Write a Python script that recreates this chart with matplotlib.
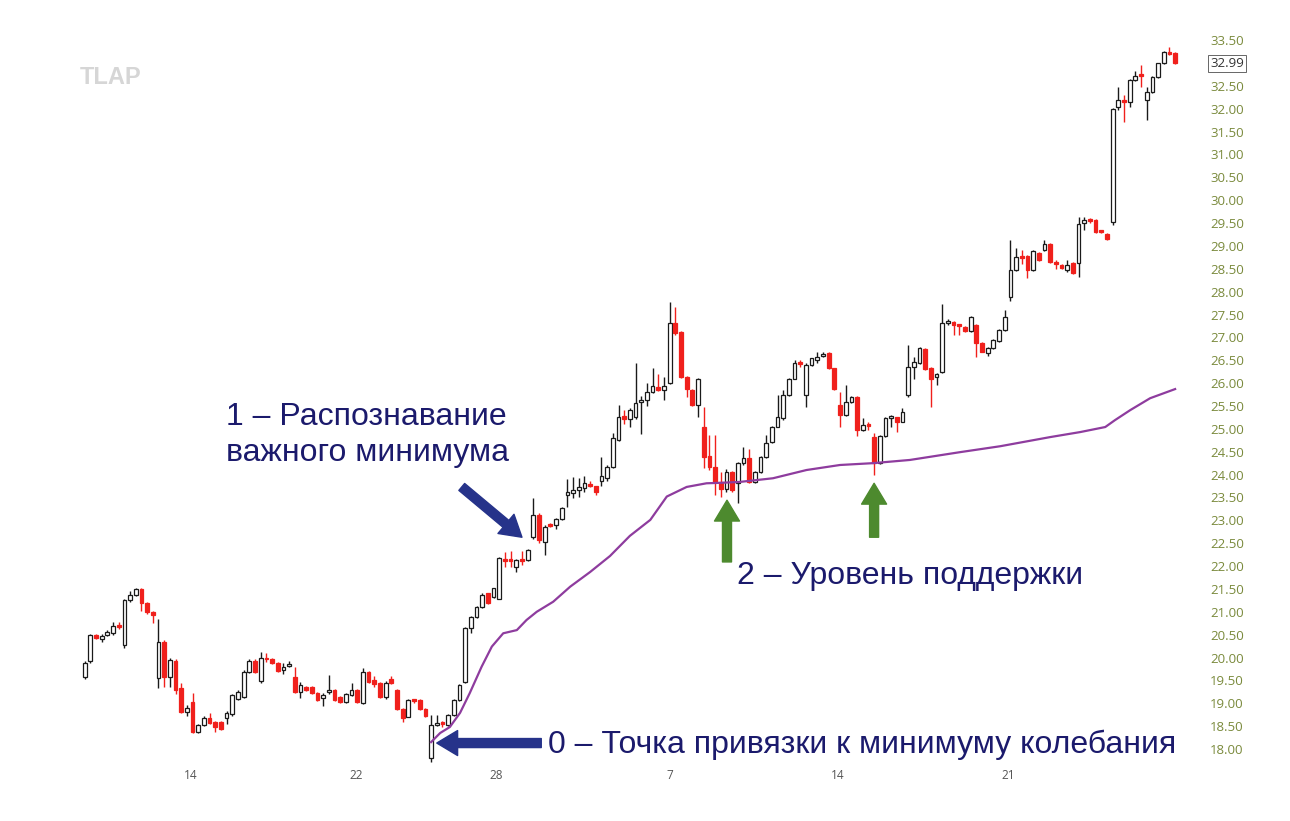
import numpy as np
import matplotlib.pyplot as plt

# OHLC, one value per candle
opens = [19.57, 19.92, 20.50, 20.40, 20.50, 20.53, 20.70, 20.27, 21.26, 21.37,
         21.50, 21.19, 21.00, 19.55, 20.35, 19.58, 19.93, 19.33, 18.81, 19.03,
         18.38, 18.52, 18.68, 18.60, 18.60, 18.68, 18.76, 19.10, 19.14, 19.69,
         19.93, 19.49, 19.98, 19.97, 19.89, 19.72, 19.82, 19.58, 19.25, 19.36,
         19.35, 19.22, 19.11, 19.24, 19.30, 19.14, 19.03, 19.18, 19.29, 19.00,
         19.69, 19.51, 19.45, 19.14, 19.53, 19.30, 18.87, 18.71, 19.08, 19.08,
         18.87, 17.80, 18.52, 18.58, 18.52, 18.74, 19.07, 19.47, 20.64, 20.89,
         21.11, 21.40, 21.33, 21.29, 22.15, 22.15, 21.98, 22.15, 22.13, 22.64,
         23.12, 22.53, 22.92, 22.90, 23.02, 23.55, 23.60, 23.66, 23.70, 23.78,
         23.74, 23.87, 23.92, 24.17, 24.75, 25.28, 25.21, 25.26, 25.59, 25.63,
         25.81, 25.92, 25.86, 26.00, 27.31, 27.12, 26.14, 25.85, 25.52, 25.05,
         24.40, 24.17, 23.84, 23.68, 24.06, 23.81, 24.25, 24.36, 23.84, 24.06,
         24.39, 24.72, 25.05, 25.23, 25.74, 26.10, 26.45, 25.74, 26.40, 26.50,
         26.59, 26.65, 26.32, 25.52, 25.30, 25.59, 25.70, 24.97, 25.10, 24.83,
         24.25, 24.84, 25.24, 25.25, 25.16, 25.74, 26.36, 26.44, 26.74, 26.34,
         26.13, 26.25, 27.31, 27.34, 27.27, 27.22, 27.14, 27.27, 26.87, 26.65,
         26.76, 26.93, 27.16, 27.88, 28.47, 28.77, 28.77, 28.48, 28.84, 28.91,
         29.05, 28.64, 28.58, 28.47, 28.62, 28.62, 29.50, 29.56, 29.56, 29.32,
         29.27, 29.53, 32.04, 32.18, 32.15, 32.63, 32.74, 32.19, 32.37, 32.70,
         32.99, 33.24, 33.21]
highs = [19.92, 20.52, 20.52, 20.52, 20.60, 20.78, 20.78, 21.28, 21.46, 21.52,
         21.52, 21.22, 21.02, 20.84, 20.38, 20.00, 19.96, 19.44, 18.97, 19.22,
         18.55, 18.72, 18.78, 18.62, 18.62, 18.82, 19.20, 19.28, 19.72, 19.96,
         19.96, 20.13, 20.10, 19.99, 19.91, 19.88, 19.92, 19.80, 19.47, 19.38,
         19.37, 19.24, 19.22, 19.62, 19.32, 19.16, 19.22, 19.44, 19.31, 19.78,
         19.71, 19.60, 19.47, 19.48, 19.60, 19.32, 18.89, 19.10, 19.10, 19.10,
         18.89, 18.74, 18.74, 18.62, 18.76, 19.09, 19.42, 20.66, 20.91, 21.13,
         21.40, 21.42, 21.53, 22.20, 22.31, 22.33, 22.16, 22.33, 22.38, 23.48,
         23.15, 22.90, 22.95, 23.06, 23.30, 23.90, 23.95, 23.92, 23.98, 23.85,
         23.76, 24.39, 24.20, 24.90, 25.52, 25.41, 25.45, 26.44, 25.72, 26.00,
         26.34, 26.20, 26.13, 27.78, 27.66, 27.14, 26.16, 25.87, 26.12, 25.48,
         24.86, 24.86, 24.06, 24.12, 24.08, 24.27, 24.61, 24.55, 24.08, 24.41,
         24.86, 25.07, 25.74, 25.85, 26.12, 26.50, 26.50, 26.45, 26.56, 26.68,
         26.68, 26.67, 26.34, 25.81, 25.96, 25.72, 25.72, 25.23, 25.15, 24.90,
         24.86, 25.25, 25.30, 25.27, 25.45, 26.83, 26.58, 26.78, 26.76, 26.36,
         26.22, 27.73, 27.40, 27.36, 27.30, 27.25, 27.46, 27.30, 26.89, 26.78,
         26.96, 27.18, 27.60, 29.13, 28.95, 28.92, 28.80, 28.92, 28.86, 29.12,
         29.07, 28.70, 28.60, 28.70, 28.64, 29.64, 29.64, 29.60, 29.58, 29.34,
         29.29, 32.02, 32.48, 32.30, 32.65, 32.82, 32.96, 32.48, 32.72, 33.01,
         33.26, 33.36, 33.23]
lows = [19.53, 19.88, 20.40, 20.35, 20.48, 20.50, 20.62, 20.20, 21.22, 21.35,
        21.02, 20.96, 20.75, 19.33, 19.36, 19.36, 19.20, 18.78, 18.72, 18.36,
        18.34, 18.50, 18.54, 18.38, 18.42, 18.55, 18.72, 19.07, 19.12, 19.66,
        19.66, 19.45, 19.90, 19.86, 19.68, 19.65, 19.80, 19.22, 19.11, 19.27,
        19.20, 19.05, 18.94, 19.20, 19.06, 19.01, 19.01, 19.16, 19.01, 18.98,
        19.45, 19.36, 19.12, 19.10, 19.42, 18.85, 18.60, 18.69, 19.00, 18.85,
        18.70, 17.72, 18.50, 18.48, 18.50, 18.72, 19.05, 19.45, 20.54, 20.87,
        21.09, 21.18, 21.31, 21.27, 21.98, 21.98, 21.88, 22.02, 22.11, 22.60,
        22.50, 22.24, 22.85, 22.80, 23.00, 23.30, 23.48, 23.50, 23.62, 23.72,
        23.55, 23.75, 23.85, 24.15, 24.73, 25.10, 25.05, 25.22, 24.89, 25.50,
        25.78, 25.83, 25.63, 25.98, 27.05, 26.12, 25.70, 25.50, 25.27, 24.14,
        24.10, 23.55, 23.52, 23.62, 23.62, 23.38, 24.22, 23.82, 23.82, 24.04,
        24.37, 24.70, 25.03, 25.20, 25.72, 26.08, 26.35, 25.48, 26.38, 26.45,
        26.57, 26.30, 25.86, 25.05, 25.28, 25.57, 24.84, 24.95, 24.98, 23.99,
        24.23, 24.82, 25.05, 24.94, 25.14, 25.70, 26.10, 26.42, 26.28, 25.48,
        25.96, 26.23, 27.28, 27.05, 27.06, 27.12, 27.12, 26.58, 26.67, 26.60,
        26.74, 26.91, 27.14, 27.80, 28.45, 28.60, 28.30, 28.46, 28.67, 28.89,
        28.63, 28.50, 28.49, 28.43, 28.38, 28.33, 29.35, 29.50, 29.29, 29.28,
        29.14, 29.46, 31.98, 31.71, 32.04, 32.60, 32.48, 31.75, 32.35, 32.68,
        32.97, 33.18, 32.97]
closes = [19.88, 20.49, 20.42, 20.47, 20.56, 20.70, 20.67, 21.26, 21.37, 21.50,
          21.19, 20.99, 20.93, 20.35, 19.58, 19.94, 19.29, 18.81, 18.90, 18.38,
          18.52, 18.68, 18.56, 18.49, 18.44, 18.79, 19.18, 19.25, 19.69, 19.93,
          19.69, 19.99, 19.96, 19.89, 19.71, 19.80, 19.85, 19.25, 19.40, 19.29,
          19.22, 19.07, 19.18, 19.29, 19.08, 19.03, 19.20, 19.29, 19.03, 19.69,
          19.47, 19.43, 19.14, 19.45, 19.44, 18.87, 18.67, 19.08, 19.06, 18.87,
          18.72, 18.52, 18.57, 18.55, 18.74, 19.07, 19.40, 20.64, 20.89, 21.11,
          21.37, 21.20, 21.51, 22.17, 22.10, 22.10, 22.13, 22.10, 22.35, 23.12,
          22.57, 22.86, 22.88, 23.02, 23.28, 23.62, 23.66, 23.72, 23.81, 23.75,
          23.63, 23.97, 24.17, 24.79, 25.27, 25.21, 25.41, 25.56, 25.64, 25.81,
          25.94, 25.85, 25.94, 27.31, 27.10, 26.14, 25.88, 25.52, 26.08, 24.39,
          24.16, 23.84, 23.68, 24.06, 23.66, 24.25, 24.36, 23.84, 24.06, 24.39,
          24.70, 25.05, 25.27, 25.74, 26.10, 26.43, 26.42, 26.40, 26.54, 26.58,
          26.63, 26.32, 25.88, 25.30, 25.59, 25.70, 24.97, 25.08, 25.07, 24.25,
          24.84, 25.23, 25.27, 25.16, 25.37, 26.36, 26.47, 26.76, 26.30, 26.08,
          26.20, 27.31, 27.34, 27.27, 27.25, 27.14, 27.44, 26.87, 26.69, 26.76,
          26.94, 27.16, 27.45, 28.47, 28.76, 28.74, 28.47, 28.89, 28.69, 29.05,
          28.65, 28.61, 28.51, 28.58, 28.40, 29.49, 29.56, 29.54, 29.31, 29.30,
          29.16, 32.00, 32.19, 32.15, 32.63, 32.72, 32.72, 32.37, 32.70, 32.99,
          33.24, 33.20, 32.99]

# purple average line (vertices: candle index, price)
ma_idx = [61, 62.6, 64.3, 66.1, 67.8, 69.9, 71.7, 73.7, 76.1, 77.8, 79.6, 82.5,
          85.5, 89.0, 92.5, 96.0, 99.6, 102.5, 106.0, 109.5, 111.9, 115.4, 121.2,
          127.1, 133.0, 138.8, 145.3, 154.1, 161.2, 170.0, 175.3, 179.7, 181.4,
          184.1, 187.6, 192]
ma_val = [18.15, 18.35, 18.48, 18.79, 19.22, 19.80, 20.24, 20.53, 20.60, 20.82,
          21.00, 21.22, 21.55, 21.87, 22.22, 22.66, 23.01, 23.52, 23.73, 23.81,
          23.82, 23.84, 23.92, 24.10, 24.21, 24.25, 24.32, 24.49, 24.62, 24.82,
          24.93, 25.04, 25.19, 25.41, 25.67, 25.87]

day_pos = [18.7, 47.9, 72.4, 103.1, 132.6, 162.6]
day_labels = ["14", "22", "28", "7", "14", "21"]
last_price = 32.99

navy = "#1b1a6c"
arrow_blue = "#26338a"
green = "#4d8a2e"
red = "#f0201c"

fig = plt.figure(figsize=(12.9, 8.21), dpi=100)
ax = fig.add_axes([0, 56 / 821, 1195 / 1290, 745 / 821])
ax.set_xlim(-14.9, 195.5)
ax.set_ylim(17.65, 33.94)

o = np.array(opens)
h = np.array(highs)
l = np.array(lows)
c = np.array(closes)
idx = np.arange(len(o))
up = c >= o
edge = np.where(up, "#1a1a1a", red)
face = np.where(up, "white", red)

ax.vlines(idx, l, h, colors=edge, linewidth=1.0, zorder=2)
body = np.maximum(np.abs(c - o), 0.04)
ax.bar(idx, body, bottom=np.minimum(o, c), width=0.66, color=face,
       edgecolor=edge, linewidth=0.9, zorder=3)

ax.plot(ma_idx, ma_val, color="#8e3c9e", linewidth=1.6, zorder=4)

# axes look
for s in ax.spines.values():
    s.set_visible(False)
ax.yaxis.tick_right()
yt = [v for v in np.arange(18.0, 33.51, 0.5) if abs(v - 33.0) > 0.01]
ax.set_yticks(yt)
ax.set_yticklabels([f"{v:.2f}" for v in yt])
ax.tick_params(axis="y", length=0, pad=11, labelsize=9.5, labelcolor="#7a8a3c")
ax.set_xticks(day_pos)
ax.set_xticklabels(day_labels)
ax.tick_params(axis="x", length=0, pad=3, labelsize=8.5, labelcolor="#555555")
for t in ax.get_xticklabels() + ax.get_yticklabels():
    t.set_fontfamily("Open Sans")

ax.annotate(f"{last_price:.2f}", xy=(1, last_price), xycoords=("axes fraction", "data"),
            xytext=(11, 0), textcoords="offset points", va="center", ha="left",
            fontsize=9.5, color="#333333", family="Open Sans",
            bbox=dict(boxstyle="square,pad=0.15", fc="white", ec="#666666", lw=0.7))

fig.text(80 / 1290, 1 - 78 / 821, "TLAP", fontsize=17, fontweight="bold",
         color="#d6d6d6", family="Liberation Sans", va="center", ha="left")

# annotations
txt = dict(color=navy, fontsize=23, family="Liberation Sans")
ax.text(24.9, 25.58, "1 – Распознавание\nважного минимума", va="top", ha="left",
        linespacing=1.24, **txt)
ax.text(114.9, 21.78, "2 – Уровень поддержки", va="center", ha="left", **txt)
ax.text(81.6, 18.09, "0 – Точка привязки к минимуму колебания", va="center", ha="left", **txt)

blue_arrow = dict(width=6.5, headwidth=18, headlength=15, color=arrow_blue, shrink=0)
ax.annotate("", xy=(77.0, 22.63), xytext=(66.4, 23.73), arrowprops=blue_arrow)
ax.annotate("", xy=(62.0, 18.13), xytext=(80.4, 18.13), arrowprops=blue_arrow)
green_arrow = dict(width=6.5, headwidth=18, headlength=15, color=green, shrink=0)
ax.annotate("", xy=(113.1, 23.44), xytext=(113.1, 22.09), arrowprops=green_arrow)
ax.annotate("", xy=(139.0, 23.81), xytext=(139.0, 22.63), arrowprops=green_arrow)

fig.savefig("out.png", dpi=100)
